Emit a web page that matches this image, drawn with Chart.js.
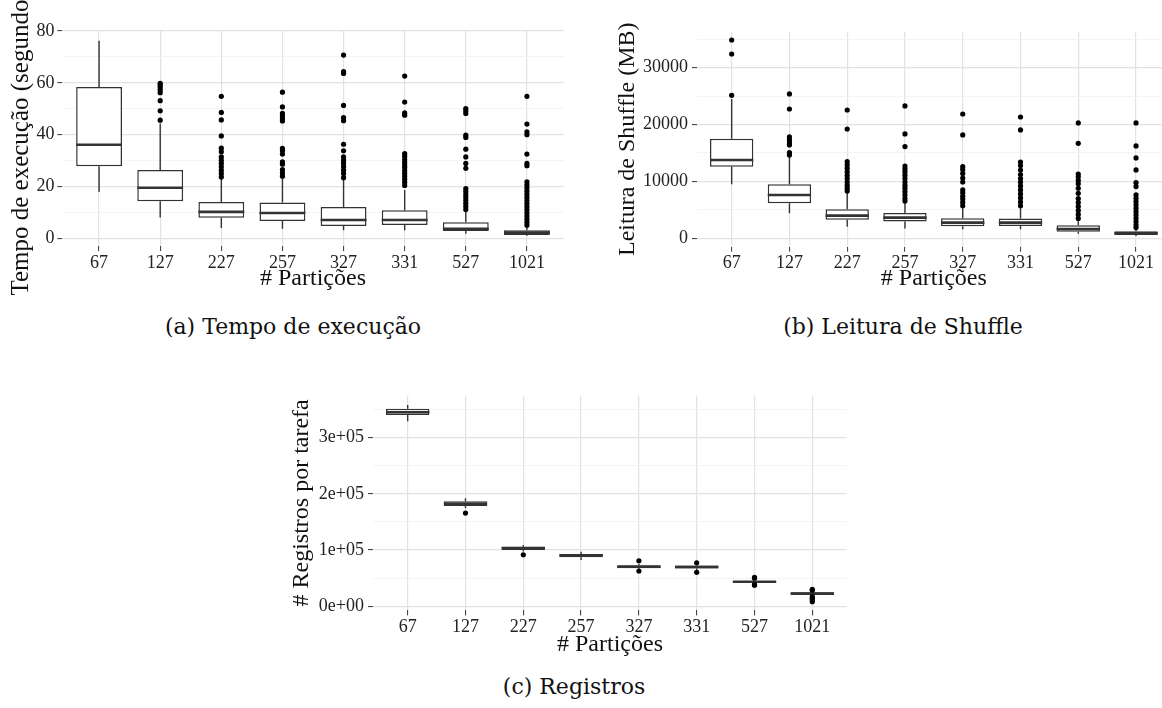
<!DOCTYPE html>
<html>
<head>
<meta charset="utf-8">
<script src="https://cdn.jsdelivr.net/npm/chart.js@4.4.1/dist/chart.umd.min.js"></script>
<style>
  html, body { margin: 0; padding: 0; background: #fff; overflow: hidden; }
  body { width: 1162px; height: 708px; position: relative; }
  .panel { position: absolute; overflow: hidden; }
  .cap { position: absolute; width: 400px; text-align: center; font-family: 'DejaVu Serif', serif;
         font-size: 22px; line-height: 28px; color: #111; white-space: nowrap; }
</style>
</head>
<body>
<div class="panel" style="left:0; top:0; width:580px; height:300px"><canvas id="chartA" width="580" height="300"></canvas></div>
<div class="panel" style="left:600px; top:0; width:562px; height:300px"><canvas id="chartB" width="580" height="300"></canvas></div>
<div class="panel" style="left:280px; top:380px; width:580px; height:280px"><canvas id="chartC" width="580" height="280"></canvas></div>
<div class="cap" style="left:93px; top:313px">(a) Tempo de execução</div>
<div class="cap" style="left:703px; top:313px">(b) Leitura de Shuffle</div>
<div class="cap" style="left:374px; top:673px">(c) Registros</div>

<script>
// --- Data ---
const partitions = ["67", "127", "227", "257", "327", "331", "527", "1021"];

// (a) Tempo de execução (segundos)
const timeLow  = [17.9, 8.0, 4.0, 3.7, 3.1, 3.1, 1.8, 1.0];
const timeQ1   = [27.8, 14.3, 7.9, 6.7, 4.8, 5.1, 2.8, 1.3];
const timeMed  = [36.1, 19.5, 10.2, 9.8, 7.1, 7.1, 3.7, 2.2];
const timeQ3   = [58.4, 26.4, 14.0, 13.8, 12.1, 10.8, 6.2, 3.1];
const timeHigh = [76.2, 44.3, 23.0, 23.0, 22.5, 18.6, 10.2, 4.2];
const timeOut  = [
  [],
  [59.8, 59.1, 58.2, 57.2, 56.2, 53.1, 49.2, 45.6],
  [54.8, 48.6, 45.7, 39.5, 34.8, 33.4, 31.4, 30.1, 28.9, 27.6, 26.3, 25.0, 23.7],
  [56.4, 50.7, 48.2, 47.2, 46.1, 45.3, 34.7, 33.8, 32.5, 29.5, 28.6, 26.5, 25.2, 24.0],
  [70.7, 64.3, 63.6, 51.3, 46.6, 45.4, 36.3, 33.8, 31.4, 30.1, 28.9, 27.6, 26.3, 25.0, 23.4],
  [62.6, 52.6, 48.4, 47.5, 32.7, 31.7, 30.4, 29.3, 28.3, 27.4, 26.2, 25.1, 24.0, 22.8, 21.6, 20.4],
  [50.1, 49.2, 48.2, 39.8, 38.9, 34.4, 31.4, 28.9, 27.0, 19.2, 18.1, 16.9, 15.8, 14.7, 13.5, 12.3, 11.1],
  [54.8, 44.1, 41.1, 40.0, 32.5, 28.9, 28.0, 21.8, 20.6, 19.4, 18.2, 17.0, 15.8, 14.6, 13.4, 12.2, 11.0, 9.8, 8.6, 7.4, 6.2, 5.0]
];
const timeTicks  = [0, 20, 40, 60, 80];
const timeLabels = ["0", "20", "40", "60", "80"];
const timeMinor  = [10, 30, 50, 70];

// (b) Leitura de Shuffle (MB)
const shufLow  = [9500, 4400, 2050, 1700, 1580, 1580, 800, 400];
const shufQ1   = [12600, 6150, 3280, 2930, 2110, 2170, 1160, 580];
const shufMed  = [13770, 7620, 3990, 3630, 2750, 2750, 1640, 880];
const shufQ3   = [17520, 9500, 5100, 4450, 3520, 3460, 2290, 1230];
const shufHigh = [24500, 14300, 8100, 6400, 5300, 5300, 3200, 1750];
const shufOut  = [
  [34870, 32410, 25140],
  [25380, 22740, 17820, 17290, 16820, 16410, 15060, 14650],
  [22560, 19220, 13480, 12900, 12300, 11700, 11100, 10500, 9900, 9300, 8800, 8300],
  [23270, 18345, 16120, 12700, 12200, 11700, 11100, 10500, 9900, 9300, 8800, 8200, 7600, 7000, 6550],
  [21860, 18170, 12600, 12100, 11400, 10600, 9900, 8500, 8000, 7400, 6900, 6300, 5700],
  [21330, 19050, 13400, 12800, 12000, 11200, 10500, 9900, 9200, 8500, 7800, 7100, 6400, 5700],
  [20280, 16700, 11300, 10800, 10200, 9600, 8800, 7900, 7000, 6300, 5600, 4900, 4200, 3500],
  [20280, 16235, 14125, 12015, 9788, 9085, 7620, 7033, 6447, 5861, 5275, 4689, 4103, 3517, 2931, 2344, 1876]
];
const shufTicks  = [0, 10000, 20000, 30000];
const shufLabels = ["0", "10000", "20000", "30000"];
const shufMinor  = [5000, 15000, 25000, 35000];

// (c) # Registros por tarefa
const regLow  = [329200, 174300, 97500, 82300, 65000, 64500, 41000, 19000];
const regQ1   = [340400, 178400, 100100, 87100, 67500, 67000, 42000, 20000];
const regMed  = [345200, 182500, 103600, 90600, 70300, 69800, 43500, 22500];
const regQ3   = [351600, 186700, 105900, 92900, 73000, 72500, 45000, 25000];
const regHigh = [358200, 192100, 109000, 97000, 75500, 75000, 46000, 26500];
const regOut  = [
  [],
  [165900],
  [91700],
  [],
  [81000, 62700],
  [77400, 60400],
  [51400, 50000, 38500, 37500],
  [30100, 28500, 17000, 14000, 11000, 8000]
];
const regTicks  = [0, 100000, 200000, 300000];
const regLabels = ["0e+00", "1e+05", "2e+05", "3e+05"];
const regMinor  = [50000, 150000, 250000, 350000];

const serif = "'Liberation Serif', 'Times New Roman', serif";
const INK = '#333333';

// --- Whiskers and median lines, drawn through the chart's scales ---
function makeBoxPlugin(s) {
  return {
    id: 'boxParts',
    beforeDatasetsDraw(chart) {
      const { ctx, scales: { x, y } } = chart;
      ctx.save();
      ctx.strokeStyle = INK;
      ctx.lineWidth = 1.4;
      ctx.beginPath();
      s.low.forEach((lo, i) => {
        const px = x.getPixelForValue(i + 1);
        ctx.moveTo(px, y.getPixelForValue(lo));
        ctx.lineTo(px, y.getPixelForValue(s.q1[i]));
        ctx.moveTo(px, y.getPixelForValue(s.q3[i]));
        ctx.lineTo(px, y.getPixelForValue(s.high[i]));
      });
      ctx.stroke();
      ctx.restore();
    },
    afterDatasetDraw(chart, args) {
      if (args.index !== 0) return;
      const { ctx, scales: { y } } = chart;
      const bars = chart.getDatasetMeta(0).data;
      ctx.save();
      ctx.strokeStyle = INK;
      ctx.lineWidth = 2.6;
      ctx.beginPath();
      bars.forEach((bar, i) => {
        const py = y.getPixelForValue(s.med[i]);
        ctx.moveTo(bar.x - bar.width / 2, py);
        ctx.lineTo(bar.x + bar.width / 2, py);
      });
      ctx.stroke();
      ctx.restore();
    }
  };
}

// --- One ggplot-like box plot ---
function boxChart(id, s) {
  const yAll = s.ticks.concat(s.minor).sort((a, b) => a - b);
  const isMajor = c => c.tick && s.ticks.includes(c.tick.value);

  return new Chart(document.getElementById(id), {
    type: 'bar',
    data: {
      datasets: [{
        data: s.q1.map((v, i) => ({ x: i + 1, y: [v, s.q3[i]] })),
        backgroundColor: '#ffffff',
        borderColor: INK,
        borderWidth: 1.5,
        borderSkipped: false,
        barPercentage: 0.75,
        categoryPercentage: 1,
        order: 2
      }, {
        type: 'scatter',
        data: s.out.flatMap((arr, i) => arr.map(v => ({ x: i + 1, y: v }))),
        pointRadius: 2.6,
        pointHoverRadius: 2.6,
        pointBackgroundColor: '#000',
        pointBorderWidth: 0,
        order: 1
      }]
    },
    options: {
      responsive: false,
      animation: false,
      events: [],
      layout: { padding: s.pad },
      plugins: { legend: { display: false }, tooltip: { enabled: false } },
      scales: {
        x: {
          type: 'linear',
          min: 0.4,
          max: 8.6,
          offset: false,
          afterBuildTicks: a => { a.ticks = partitions.map((_, i) => ({ value: i + 1 })); },
          afterFit: a => { a.height = s.xH; },
          ticks: {
            callback: v => partitions[v - 1],
            font: { family: serif, size: 18 },
            color: '#222',
            padding: 1,
            autoSkip: false,
            maxRotation: 0
          },
          grid: { color: '#e2e2e2', lineWidth: 1.2, tickColor: INK, tickLength: 5, tickWidth: 1, offset: false },
          border: { display: false },
          title: {
            display: true, text: '# Partições',
            font: { family: serif, size: 24 }, color: '#111',
            padding: { top: 0, bottom: s.xTitlePad }
          }
        },
        y: {
          min: s.yMin,
          max: s.yMax,
          afterBuildTicks: a => { a.ticks = yAll.map(v => ({ value: v })); },
          afterFit: a => { a.width = s.yW; },
          ticks: {
            callback: v => { const k = s.ticks.indexOf(v); return k >= 0 ? s.labels[k] : ''; },
            font: { family: serif, size: 18 },
            color: '#222',
            padding: s.yTickPad,
            autoSkip: false
          },
          grid: {
            color: c => isMajor(c) ? '#e2e2e2' : '#f1f1f1',
            lineWidth: c => isMajor(c) ? 1.2 : 0.8,
            tickColor: c => isMajor(c) ? INK : 'rgba(0,0,0,0)',
            tickLength: 5,
            tickWidth: 1
          },
          border: { display: false },
          title: {
            display: true, text: s.yTitle,
            font: { family: serif, size: s.yTitleSize }, color: '#111',
            padding: { top: s.yTitlePad, bottom: 0 }
          }
        }
      }
    },
    plugins: [makeBoxPlugin(s)]
  });
}

// --- Init ---
boxChart('chartA', {
  low: timeLow, q1: timeQ1, med: timeMed, q3: timeQ3, high: timeHigh, out: timeOut,
  ticks: timeTicks, labels: timeLabels, minor: timeMinor,
  yMin: -3, yMax: 80, yTitle: 'Tempo de execução (segundos)', yTitleSize: 25,
  pad: { left: 0, top: 31, right: 16.4, bottom: 0 },
  yW: 62.4, xH: 53.9, yTickPad: 3, yTitlePad: 6, xTitlePad: 6.6
});

boxChart('chartB', {
  low: shufLow, q1: shufQ1, med: shufMed, q3: shufQ3, high: shufHigh, out: shufOut,
  ticks: shufTicks, labels: shufLabels, minor: shufMinor,
  yMin: -1480, yMax: 36330, yTitle: 'Leitura de Shuffle (MB)', yTitleSize: 24,
  pad: { left: 0, top: 31.7, right: 9.3, bottom: 0 },
  yW: 97, xH: 53.3, yTickPad: 4, yTitlePad: 13.4, xTitlePad: 6.6
});

boxChart('chartC', {
  low: regLow, q1: regQ1, med: regMed, q3: regQ3, high: regHigh, out: regOut,
  ticks: regTicks, labels: regLabels, minor: regMinor,
  yMin: -7400, yMax: 375300, yTitle: '# Registros por tarefa', yTitleSize: 24,
  pad: { left: 0, top: 15.4, right: 13, bottom: 0 },
  yW: 93, xH: 49.6, yTickPad: 4, yTitlePad: 7, xTitlePad: 0.6
});
</script>
</body>
</html>
